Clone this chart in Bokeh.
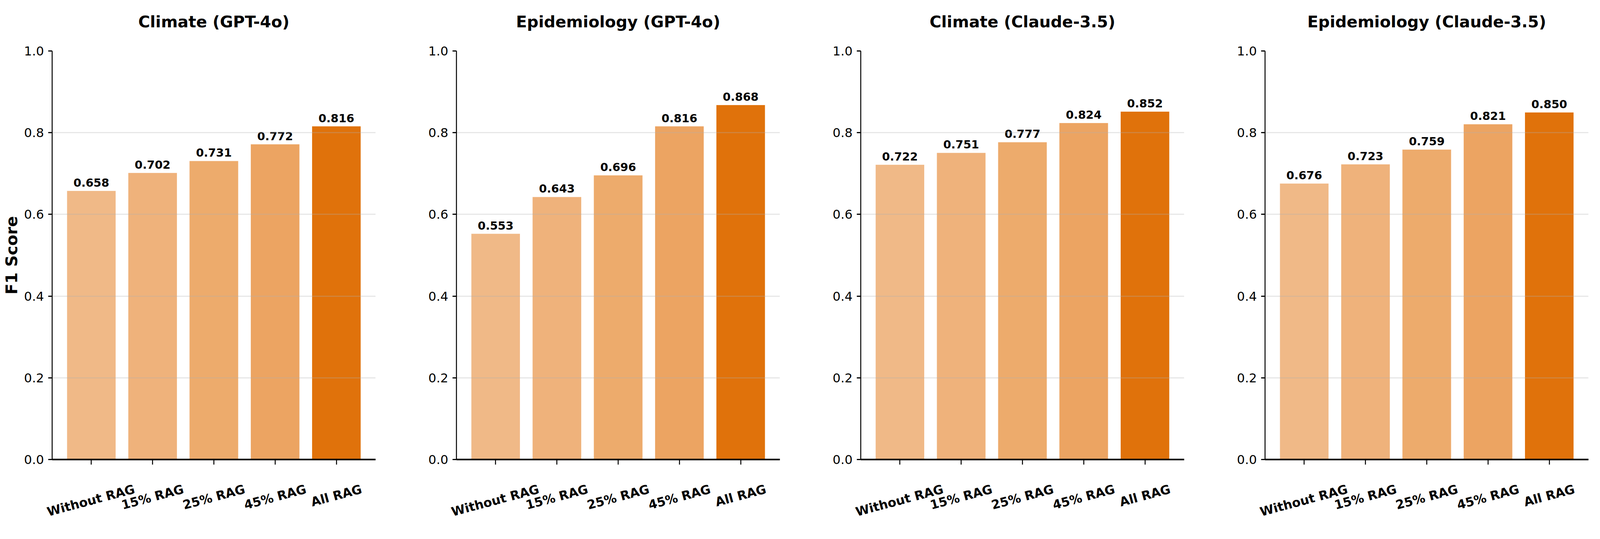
import math
from bokeh.plotting import figure
from bokeh.layouts import row
from bokeh.models import (ColumnDataSource, FixedTicker, PrintfTickFormatter,
                          CustomJSTickFormatter, LinearAxis, Range1d)
from bokeh.core.properties import value
from bokeh.embed import file_html
from bokeh.resources import INLINE

# ---- data ----
categories = ["Without RAG", "15% RAG", "25% RAG", "45% RAG", "All RAG"]
titles = ["Climate (GPT-4o)", "Epidemiology (GPT-4o)",
          "Climate (Claude-3.5)", "Epidemiology (Claude-3.5)"]
climate_gpt4o = [0.658, 0.702, 0.731, 0.772, 0.816]
epidemiology_gpt4o = [0.553, 0.643, 0.696, 0.816, 0.868]
climate_claude = [0.722, 0.751, 0.777, 0.824, 0.852]
epidemiology_claude = [0.676, 0.723, 0.759, 0.821, 0.850]
y_ticks = [0.0, 0.2, 0.4, 0.6, 0.8, 1.0]
series = [climate_gpt4o, epidemiology_gpt4o, climate_claude, epidemiology_claude]

# ---- style / layout (the browser viewport is 4096 px wide) ----
bar_colors = ["#F0B987", "#EFB27B", "#EDAB6C", "#ECA462", "#E0720B"]
FONT = "DejaVu Sans"
TITLE_SIZE = 41
TICK_SIZE = 32
XLAB_SIZE = 32
VAL_SIZE = 29
ROT = 15.0
FIG_W = 1035
LAST_W = 975
BORDER_L = 133
FRAME_W = 828
X_LO, X_HI = -0.64, 4.64

# approximate DejaVu Sans Bold advance widths (em) for the x labels
CHAR_W = {" ": 0.348, "%": 1.002, "1": 0.696, "2": 0.696, "4": 0.696, "5": 0.696,
          "A": 0.774, "G": 0.821, "R": 0.770, "W": 1.029, "i": 0.343, "t": 0.478,
          "h": 0.712, "o": 0.687, "u": 0.712, "l": 0.343}


def label_shift(s):
    """Data-unit shift so a right-anchored rotated label is centred on its tick."""
    w = sum(CHAR_W.get(c, 0.65) for c in s) * XLAB_SIZE
    px = w * math.cos(math.radians(ROT)) / 2
    return px * (X_HI - X_LO) / FRAME_W


idx = list(range(len(categories)))
label_pos = [i + label_shift(c) for i, c in zip(idx, categories)]

figs = []
for k, (title, vals) in enumerate(zip(titles, series)):
    last = k == len(titles) - 1
    width = LAST_W if last else FIG_W
    p = figure(width=width, height=1356,
               x_range=Range1d(X_LO, X_HI), y_range=Range1d(0, 1.0),
               output_backend="svg", toolbar_location=None,
               min_border_left=BORDER_L,
               min_border_right=width - BORDER_L - FRAME_W,
               min_border_top=130, min_border_bottom=180)
    p.outline_line_color = None
    p.background_fill_color = "white"
    p.border_fill_color = "white"

    p.title.text = title
    p.title.text_font = FONT
    p.title.text_font_size = f"{TITLE_SIZE}px"
    p.title.text_font_style = "bold"
    p.title.text_color = "black"
    p.title.align = "center"
    p.title.standoff = 50
    p.title.padding = dict(left=0, right=0, top=0, bottom=26)

    src = ColumnDataSource(dict(x=idx, top=vals, color=bar_colors,
                                lab=[f"{v:.3f}" for v in vals],
                                ly=[v + 0.01 for v in vals]))
    p.vbar(x="x", top="top", bottom=0, width=0.8, source=src,
           fill_color="color", line_color="white", line_width=1,
           level="underlay")
    p.text(x="x", y="ly", text="lab", source=src, text_align="center",
           text_baseline="bottom", text_font=value(FONT),
           text_font_style="bold", text_font_size=f"{VAL_SIZE}px",
           text_color="black")

    # grids (drawn over the bars, like matplotlib's default)
    p.xgrid.visible = False
    p.ygrid.ticker = FixedTicker(ticks=y_ticks)
    p.ygrid.grid_line_color = "#b0b0b0"
    p.ygrid.grid_line_alpha = 0.3
    p.ygrid.grid_line_width = 3
    p.ygrid.level = "glyph"

    # y axis
    ya = p.yaxis[0]
    ya.ticker = FixedTicker(ticks=y_ticks)
    ya.formatter = PrintfTickFormatter(format="%.1f")
    ya.major_label_text_font = FONT
    ya.major_label_text_font_size = f"{TICK_SIZE}px"
    ya.major_label_text_color = "black"
    ya.major_label_standoff = 11
    ya.major_tick_out = 10
    ya.major_tick_in = 0
    ya.major_tick_line_width = 3
    ya.minor_tick_out = 0
    ya.minor_tick_in = 0
    ya.axis_line_width = 2.5
    ya.axis_line_color = "black"
    if k == 0:
        ya.axis_label = "F1 Score"
        ya.axis_label_text_font = FONT
        ya.axis_label_text_font_size = f"{TITLE_SIZE}px"
        ya.axis_label_text_font_style = "bold"
        ya.axis_label_text_color = "black"
        ya.axis_label_standoff = 5

    # x axis: spine + tick marks at the category centres
    xa = p.xaxis[0]
    xa.ticker = FixedTicker(ticks=idx)
    xa.formatter = CustomJSTickFormatter(code="return ''")
    xa.major_label_text_font_size = "1px"
    xa.major_label_standoff = 0
    xa.major_tick_out = 13
    xa.major_tick_in = 0
    xa.major_tick_line_width = 2.5
    xa.minor_tick_out = 0
    xa.minor_tick_in = 0
    xa.axis_line_width = 4
    xa.axis_line_color = "black"

    # category labels: rotated 15 deg, centred under each tick
    la = LinearAxis(ticker=FixedTicker(ticks=label_pos),
                    formatter=CustomJSTickFormatter(args=dict(labels=categories),
                                                    code="return labels[index]"),
                    major_label_orientation=math.radians(ROT),
                    major_label_text_font=FONT,
                    major_label_text_font_style="bold",
                    major_label_text_font_size=f"{XLAB_SIZE}px",
                    major_label_text_color="black",
                    major_label_standoff=62,
                    axis_line_color=None, major_tick_line_color=None,
                    minor_tick_line_color=None,
                    major_tick_out=0, major_tick_in=0,
                    minor_tick_out=0, minor_tick_in=0)
    p.add_layout(la, "below")
    figs.append(p)

layout = row(*figs)
open("out.html", "w").write(file_html(layout, INLINE))
